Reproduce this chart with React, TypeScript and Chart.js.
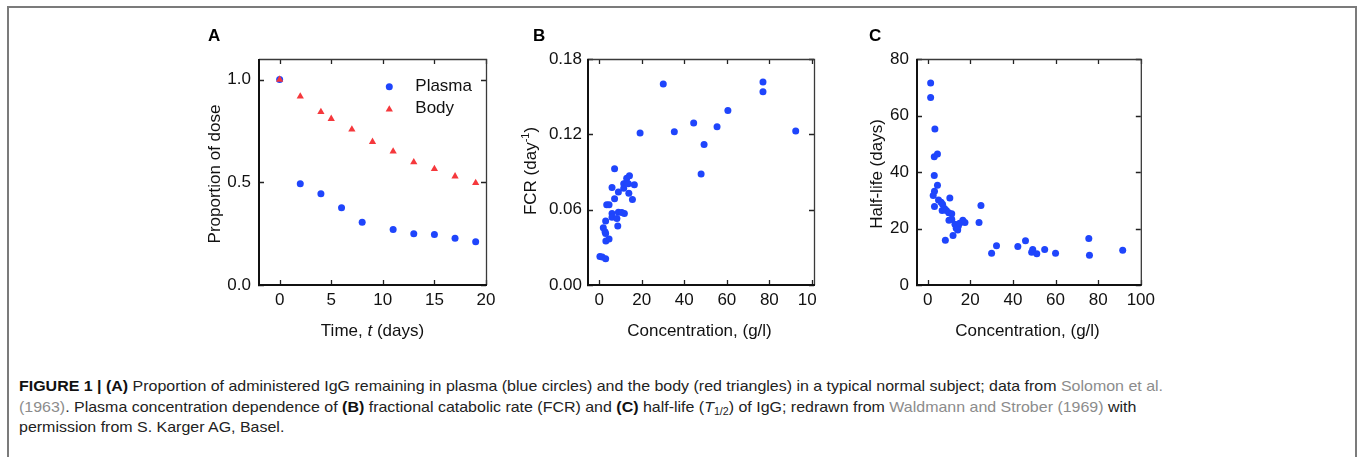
import React, { useEffect, useLayoutEffect, useRef } from 'react';
import { Chart, registerables } from 'chart.js';

Chart.register(...registerables);

const FONT = '"Liberation Sans", Arial, Helvetica, sans-serif';
const BLUE = '#1f45fc';
const RED = '#f5383c';

// ---- Panel A: proportion of dose vs time ----
const plasmaDays = [0, 2, 4, 6, 8, 11, 13, 15, 17, 19];
const plasmaProportion = [1.0, 0.493, 0.444, 0.376, 0.306, 0.27, 0.249, 0.246, 0.228, 0.211];
const bodyDays = [0, 2, 4, 5, 7, 9, 11, 13, 15, 17, 19];
const bodyProportion = [1.0, 0.918, 0.842, 0.809, 0.757, 0.697, 0.65, 0.598, 0.565, 0.529, 0.497];
const aTicksX = [0, 5, 10, 15, 20];
const aTicksY = [0, 0.5, 1.0];

// ---- Panel B: FCR vs concentration ----
const concB = [0.3, 1.4, 3.0, 1.9, 2.7, 3.0, 3.1, 4.6, 3.0, 3.5, 4.6, 6.0, 6.0, 6.0, 7.2, 7.2, 8.3, 8.7, 9.0, 9.0, 10.6, 11.8, 11.5, 11.5, 12.8, 12.9, 13.7, 14.2, 13.9, 15.6, 16.5, 19.2, 30.1, 35.3, 44.4, 47.9, 49.3, 55.4, 60.5, 77.0, 77.0, 92.4];
const fcr = [0.0226, 0.0223, 0.021, 0.0455, 0.0425, 0.041, 0.035, 0.0367, 0.051, 0.064, 0.064, 0.057, 0.054, 0.0776, 0.0925, 0.0686, 0.053, 0.047, 0.058, 0.074, 0.0577, 0.057, 0.077, 0.0806, 0.0816, 0.085, 0.0806, 0.087, 0.073, 0.068, 0.0798, 0.121, 0.16, 0.122, 0.129, 0.0885, 0.112, 0.126, 0.139, 0.1617, 0.154, 0.1226];
const bTicksX = [0, 20, 40, 60, 80, 100];
const bTicksY = [0, 0.06, 0.12, 0.18];

// ---- Panel C: half-life vs concentration ----
const concC = [1.4, 1.4, 3.4, 3.1, 4.6, 3.1, 4.6, 3.2, 2.6, 3.2, 5.1, 6.3, 7.0, 6.8, 7.9, 8.8, 9.9, 10.4, 11.3, 10.0, 11.3, 8.3, 11.9, 12.8, 13.4, 14.1, 14.4, 15.0, 16.5, 17.5, 24.1, 25.0, 30.0, 32.3, 42.3, 45.9, 49.3, 48.8, 51.2, 54.9, 60.0, 75.6, 75.9, 91.5];
const halfLife = [71.5, 66.4, 55.2, 45.4, 46.4, 38.8, 35.3, 33.2, 31.7, 27.8, 30.1, 29.3, 28.6, 26.4, 27.1, 26.4, 25.6, 30.8, 25.2, 22.9, 23.3, 15.8, 17.5, 21.5, 20.1, 19.5, 20.9, 21.9, 22.9, 22.1, 22.1, 28.1, 11.2, 13.9, 13.6, 15.7, 12.6, 11.6, 11.1, 12.6, 11.2, 16.5, 10.5, 12.3];
const cTicksX = [0, 20, 40, 60, 80, 100];
const cTicksY = [0, 20, 40, 60, 80];

type Seg = { t: string; f: string; dy?: number };
const F17 = `17px ${FONT}`;
const F17I = `italic 17px ${FONT}`;
const F11 = `11px ${FONT}`;

function pts(xs: number[], ys: number[]) {
  return xs.map((x, i) => ({ x, y: ys[i] }));
}

function drawRich(ctx: CanvasRenderingContext2D, segs: Seg[], cx: number, cy: number, vertical: boolean) {
  ctx.save();
  ctx.fillStyle = '#111';
  ctx.textBaseline = 'middle';
  ctx.textAlign = 'left';
  let total = 0;
  const widths = segs.map((s) => {
    ctx.font = s.f;
    const w = ctx.measureText(s.t).width;
    total += w;
    return w;
  });
  ctx.translate(cx, cy);
  if (vertical) ctx.rotate(-Math.PI / 2);
  let x = -total / 2;
  segs.forEach((s, i) => {
    ctx.font = s.f;
    ctx.fillText(s.t, x, s.dy || 0);
    x += widths[i];
  });
  ctx.restore();
}

interface PanelProps {
  left: number; top: number; width: number; height: number; clipWidth: number;
  area: { left: number; top: number; right: number; bottom: number };
  xMin: number; xMax: number; yMin: number; yMax: number;
  xTicks: number[]; yTicks: number[];
  xDec: number; yDec: number;
  yPad: number;
  datasets: any[];
  letter: string; letterX: number;
  xTitle: Seg[]; xTitlePos: [number, number];
  yTitle: Seg[]; yTitlePos: [number, number];
  legend?: { x: number; textX: number; ys: number[] };
}

function Panel(p: PanelProps) {
  const ref = useRef<HTMLCanvasElement>(null);
  useEffect(() => {
    const canvas = ref.current!;
    const xAxisH = 30;
    const decor = {
      id: 'decor',
      afterDraw(chart: any) {
        const ctx: CanvasRenderingContext2D = chart.ctx;
        const a = chart.chartArea;
        const xs = chart.scales.x;
        const ys = chart.scales.y;
        ctx.save();
        ctx.strokeStyle = '#222';
        ctx.lineWidth = 1.3;
        ctx.beginPath();
        xs.ticks.forEach((t: any) => {
          const px = Math.round(xs.getPixelForValue(t.value)) + 0.5;
          ctx.moveTo(px, a.bottom); ctx.lineTo(px, a.bottom - 5);
          ctx.moveTo(px, a.top); ctx.lineTo(px, a.top + 5);
        });
        ys.ticks.forEach((t: any) => {
          const py = Math.round(ys.getPixelForValue(t.value)) + 0.5;
          ctx.moveTo(a.left - 1, py); ctx.lineTo(a.left + 5, py);
          ctx.moveTo(a.right, py); ctx.lineTo(a.right - 5, py);
        });
        ctx.stroke();
        ctx.strokeStyle = '#3a3a3a';
        ctx.lineWidth = 1.3;
        ctx.beginPath();
        ctx.moveTo(a.left, a.top + 0.5); ctx.lineTo(a.right + 0.5, a.top + 0.5);
        ctx.lineTo(a.right + 0.5, a.bottom);
        ctx.stroke();
        ctx.strokeStyle = '#111';
        ctx.lineWidth = 2;
        ctx.beginPath();
        ctx.moveTo(a.left, a.top);
        ctx.lineTo(a.left, a.bottom);
        ctx.lineTo(a.right + 1, a.bottom);
        ctx.stroke();
        ctx.fillStyle = '#000';
        ctx.font = `bold 17px ${FONT}`;
        ctx.textBaseline = 'alphabetic';
        ctx.textAlign = 'left';
        ctx.fillText(p.letter, p.letterX, 21);
        drawRich(ctx, p.xTitle, p.xTitlePos[0], p.xTitlePos[1], false);
        drawRich(ctx, p.yTitle, p.yTitlePos[0], p.yTitlePos[1], true);
        if (p.legend) {
          const lg = p.legend;
          chart.data.datasets.forEach((ds: any, i: number) => {
            const y = lg.ys[i];
            const r = ds.pointRadius;
            ctx.fillStyle = ds.backgroundColor;
            ctx.beginPath();
            if (ds.pointStyle === 'triangle') {
              const cy = y + r / 4;
              ctx.moveTo(lg.x, cy - r);
              ctx.lineTo(lg.x + 0.866 * r, cy + 0.5 * r);
              ctx.lineTo(lg.x - 0.866 * r, cy + 0.5 * r);
              ctx.closePath();
            } else {
              ctx.arc(lg.x, y, r, 0, Math.PI * 2);
            }
            ctx.fill();
            ctx.fillStyle = '#111';
            ctx.font = F17;
            ctx.textBaseline = 'middle';
            ctx.fillText(ds.label, lg.textX, y);
          });
        }
        ctx.restore();
      },
    };
    const tickFont = { family: FONT, size: 17 };
    const chart = new Chart(canvas, {
      type: 'scatter',
      data: { datasets: p.datasets },
      plugins: [decor],
      options: {
        animation: false,
        responsive: false,
        devicePixelRatio: 1,
        events: [],
        layout: {
          autoPadding: false,
          padding: {
            left: 0,
            top: p.area.top,
            right: p.width - p.area.right,
            bottom: p.height - p.area.bottom - xAxisH,
          },
        },
        plugins: { legend: { display: false }, tooltip: { enabled: false }, title: { display: false } },
        scales: {
          x: {
            type: 'linear',
            min: p.xMin,
            max: p.xMax,
            grid: { display: false, drawTicks: false, tickLength: 0 },
            border: { display: false },
            ticks: {
              padding: 5,
              font: tickFont,
              color: '#111',
              autoSkip: false,
              maxRotation: 0,
              callback: (v: any) => Number(v).toFixed(p.xDec),
            },
            afterBuildTicks: (axis: any) => { axis.ticks = p.xTicks.map((v) => ({ value: v })); },
            afterFit: (axis: any) => { axis.height = xAxisH; },
          },
          y: {
            type: 'linear',
            min: p.yMin,
            max: p.yMax,
            grid: { display: false, drawTicks: false, tickLength: 0 },
            border: { display: false },
            ticks: {
              padding: p.yPad,
              font: tickFont,
              color: '#111',
              autoSkip: false,
              callback: (v: any) => Number(v).toFixed(p.yDec),
            },
            afterBuildTicks: (axis: any) => { axis.ticks = p.yTicks.map((v) => ({ value: v })); },
            afterFit: (axis: any) => { axis.width = p.area.left; },
          },
        },
      } as any,
    });
    return () => chart.destroy();
  }, []);
  return (
    <div style={{ position: 'absolute', left: p.left, top: p.top, width: p.clipWidth, height: p.height, overflow: 'hidden' }}>
      <canvas
        ref={ref}
        width={p.width}
        height={p.height}
        style={{ position: 'absolute', left: 0, top: 0, width: p.width, height: p.height }}
      />
    </div>
  );
}

const GRAY = '#8c8c8c';

function Caption() {
  const ref = useRef<HTMLDivElement>(null);
  useLayoutEffect(() => {
    const el = ref.current!;
    const l1 = el.querySelector('.l1') as HTMLElement;
    const w = l1.getBoundingClientRect().width;
    if (w > 0) {
      const k = 1144 / w;
      el.querySelectorAll('.ln').forEach((n) => {
        (n as HTMLElement).style.transform = `scaleX(${k})`;
      });
    }
  }, []);
  const base: React.CSSProperties = {
    position: 'absolute',
    left: 19,
    whiteSpace: 'nowrap',
    transformOrigin: '0 0',
    fontSize: 15,
    lineHeight: '20px',
    color: '#222',
    fontFamily: '"Liberation Sans Narrow", "Liberation Sans", Arial, sans-serif',
  };
  return (
    <div ref={ref}>
      <div className="ln l1" style={{ ...base, top: 376 }}>
        <b style={{ color: '#111' }}>FIGURE 1 | (A)</b> Proportion of administered IgG remaining in plasma (blue circles) and the body (red triangles) in a typical normal subject; data from{' '}
        <span style={{ color: GRAY }}>Solomon et al.</span>
      </div>
      <div className="ln" style={{ ...base, top: 396.5 }}>
        <span style={{ color: GRAY }}>(1963)</span>. Plasma concentration dependence of <b style={{ color: '#111' }}>(B)</b> fractional catabolic rate (FCR) and{' '}
        <b style={{ color: '#111' }}>(C)</b> half-life (<i>T</i>
        <sub style={{ fontSize: 10, verticalAlign: -3 }}>1/2</sub>) of IgG; redrawn from{' '}
        <span style={{ color: GRAY }}>Waldmann and Strober (1969)</span> with
      </div>
      <div className="ln" style={{ ...base, top: 417 }}>
        permission from S. Karger AG, Basel.
      </div>
    </div>
  );
}

export default function App() {
  const dsA = [
    {
      label: 'Plasma',
      data: pts(plasmaDays, plasmaProportion),
      backgroundColor: BLUE,
      borderWidth: 0,
      pointRadius: 3.5,
      pointHoverRadius: 3.5,
      pointStyle: 'circle',
      order: 1,
    },
    {
      label: 'Body',
      data: pts(bodyDays, bodyProportion),
      backgroundColor: RED,
      borderWidth: 0,
      pointRadius: 4.2,
      pointHoverRadius: 4.2,
      pointStyle: 'triangle',
      order: 0,
    },
  ];
  const dsB = [
    { label: 'FCR', data: pts(concB, fcr), backgroundColor: BLUE, borderWidth: 0, pointRadius: 3.5, pointHoverRadius: 3.5 },
  ];
  const dsC = [
    { label: 'Half-life', data: pts(concC, halfLife), backgroundColor: BLUE, borderWidth: 0, pointRadius: 3.5, pointHoverRadius: 3.5 },
  ];
  return (
    <div style={{ position: 'fixed', left: 0, top: 0, width: 1357, height: 457, overflow: 'hidden', background: '#fff', fontFamily: FONT }}>
      <div
        style={{
          position: 'absolute', left: 7, top: 6, width: 1350, height: 480, boxSizing: 'border-box',
          borderLeft: '2px solid #7b7b7b', borderTop: '2px solid #7b7b7b', borderRight: '2px solid #7b7b7b',
        }}
      />
      <Panel
        left={190} top={20} width={320} height={330} clipWidth={320}
        area={{ left: 69, top: 39, right: 296, bottom: 265 }}
        xMin={-2} xMax={20} yMin={0} yMax={1.1}
        xTicks={aTicksX} yTicks={aTicksY} xDec={0} yDec={1} yPad={8}
        datasets={dsA}
        letter="A" letterX={18}
        xTitle={[{ t: 'Time, ', f: F17 }, { t: 't', f: F17I }, { t: ' (days)', f: F17 }]}
        xTitlePos={[182.5, 311.5]}
        yTitle={[{ t: 'Proportion of dose', f: F17 }]}
        yTitlePos={[25, 154]}
        legend={{ x: 199.3, textX: 225.3, ys: [66.7, 88.3] }}
      />
      <Panel
        left={520} top={20} width={340} height={330} clipWidth={297}
        area={{ left: 68, top: 39, right: 294, bottom: 265 }}
        xMin={-5.3} xMax={101} yMin={0} yMax={0.18}
        xTicks={bTicksX} yTicks={bTicksY} xDec={0} yDec={2} yPad={6}
        datasets={dsB}
        letter="B" letterX={13}
        xTitle={[{ t: 'Concentration, (g/l)', f: F17 }]}
        xTitlePos={[179.5, 311.5]}
        yTitle={[{ t: 'FCR (day', f: F17 }, { t: '-1', f: F11, dy: -6 }, { t: ')', f: F17 }]}
        yTitlePos={[11.7, 151]}
      />
      <Panel
        left={840} top={20} width={320} height={330} clipWidth={320}
        area={{ left: 77, top: 39, right: 303, bottom: 265 }}
        xMin={-5} xMax={100} yMin={0} yMax={80}
        xTicks={cTicksX} yTicks={cTicksY} xDec={0} yDec={0} yPad={8}
        datasets={dsC}
        letter="C" letterX={29}
        xTitle={[{ t: 'Concentration, (g/l)', f: F17 }]}
        xTitlePos={[187.5, 311.5]}
        yTitle={[{ t: 'Half-life (days)', f: F17 }]}
        yTitlePos={[37, 154]}
      />
      <Caption />
    </div>
  );
}
